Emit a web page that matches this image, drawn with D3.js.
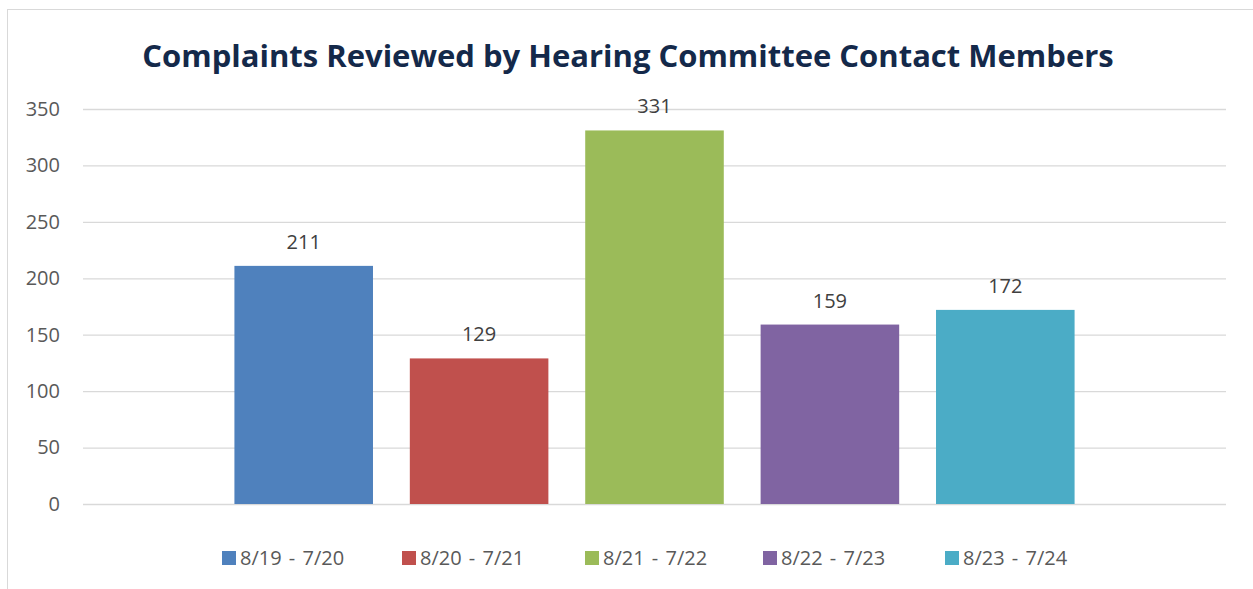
<!DOCTYPE html>
<html>
<head>
<meta charset="utf-8">
<script src="https://cdn.jsdelivr.net/npm/d3@7"></script>
<style>
  body { margin: 0; background: #fff; }
  svg { display: block; font-family: "Open Sans", "Liberation Sans", sans-serif; }
</style>
</head>
<body>
<svg id="chart" width="1253" height="589"></svg>
<script>
// chart data
const title = 'Complaints Reviewed by Hearing Committee Contact Members';
const periods = ['8/19 - 7/20', '8/20 - 7/21', '8/21 - 7/22', '8/22 - 7/23', '8/23 - 7/24'];
const complaints = [211, 129, 331, 159, 172];
const colors = ['#4f81bd', '#c0504d', '#9bbb59', '#8064a2', '#4bacc6'];
const yTicks = [0, 50, 100, 150, 200, 250, 300, 350];

const margin = {top: 109, bottom: 85, left: 83, right: 27};

let svg = d3.select('#chart');
const width = +svg.attr('width');
const height = +svg.attr('height');

// outer chart border (right edge falls outside the picture)
svg.append('rect')
    .attr('x', 7.5).attr('y', 9.5)
    .attr('width', 1260).attr('height', 600)
    .attr('fill', 'none')
    .attr('stroke', '#d9d9d9')
    .attr('stroke-width', 1);

svg.append('text')
    .attr('x', 628).attr('y', 67)
    .attr('text-anchor', 'middle')
    .attr('fill', '#14294a')
    .style('font-size', '31px')
    .style('font-weight', 700)
    .text(title);

let yScale = d3.scaleLinear()
    .domain([0, 350])
    .range([height - margin.bottom, margin.top]);

let xScale = d3.scaleBand()
    .domain(periods)
    .range([216, 1093])
    .paddingInner(0.21)
    .paddingOuter(0.105);

// gridlines + y labels
let yAxis = d3.axisLeft(yScale)
    .tickValues(yTicks)
    .tickSize(-(width - margin.left - margin.right))
    .tickPadding(23);
let gy = svg.append('g')
    .attr('transform', 'translate(' + margin.left + ',0)')
    .call(yAxis);
gy.select('.domain').remove();
gy.selectAll('.tick line').attr('stroke', '#d9d9d9').attr('stroke-width', 1.3);
gy.selectAll('.tick text')
    .attr('fill', '#595959')
    .style('font-size', '20px')
    .style('font-family', '"Open Sans", sans-serif');

svg.append('g')
    .selectAll('rect')
    .data(periods)
    .enter()
    .append('rect')
    .attr('x', d => xScale(d))
    .attr('width', xScale.bandwidth())
    .attr('y', (d, i) => yScale(complaints[i]))
    .attr('height', (d, i) => yScale(0) - yScale(complaints[i]))
    .attr('fill', (d, i) => colors[i]);

svg.append('g')
    .selectAll('text')
    .data(periods)
    .enter()
    .append('text')
    .attr('x', d => xScale(d) + xScale.bandwidth() / 2)
    .attr('y', (d, i) => yScale(complaints[i]) - 17)
    .attr('text-anchor', 'middle')
    .attr('fill', '#404040')
    .style('font-size', '20px')
    .text((d, i) => complaints[i]);

// legend
const legendX = [222, 402, 585, 763, 945];
let legend = svg.append('g')
    .selectAll('g')
    .data(periods)
    .enter()
    .append('g')
    .attr('transform', (d, i) => 'translate(' + legendX[i] + ',558)');
legend.append('rect')
    .attr('x', 0).attr('y', -7)
    .attr('width', 14).attr('height', 14)
    .attr('fill', (d, i) => colors[i]);
legend.append('text')
    .attr('x', 18).attr('y', 7)
    .attr('fill', '#595959')
    .style('font-size', '20px')
    .style('word-spacing', '2px')
    .text(d => d);
</script>
</body>
</html>
